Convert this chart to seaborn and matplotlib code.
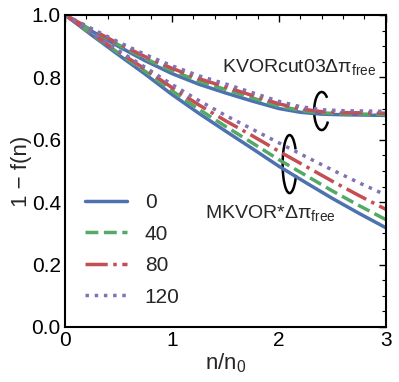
import numpy as np
import pandas as pd
import matplotlib
matplotlib.use("Agg")
import matplotlib.pyplot as plt
from matplotlib.patches import Arc
from matplotlib.ticker import MultipleLocator
import seaborn as sns

labels = ["0", "40", "80", "120"]

# MKVOR*Δπ_free curves (1 - f(n))
n_mk = [0, 0.25, 0.5, 0.75, 1.0, 1.25, 1.5, 1.75, 2.0, 2.25, 2.5, 2.75, 3.0]
mkvor_0 = [1.0, 0.935, 0.872, 0.81, 0.745, 0.685, 0.628, 0.572, 0.515, 0.463, 0.412, 0.364, 0.318]
mkvor_40 = [1.0, 0.938, 0.878, 0.819, 0.757, 0.698, 0.643, 0.590, 0.536, 0.486, 0.436, 0.389, 0.344]
mkvor_80 = [1.0, 0.940, 0.882, 0.826, 0.767, 0.712, 0.661, 0.613, 0.563, 0.515, 0.467, 0.421, 0.377]
mkvor_120 = [1.0, 0.942, 0.886, 0.832, 0.777, 0.726, 0.678, 0.634, 0.590, 0.546, 0.503, 0.462, 0.423]

# KVORcut03Δπ_free curves
n_kv = [0, 0.25, 0.5, 0.75, 1.0, 1.25, 1.5, 1.75, 2.0, 2.2, 2.4, 2.6, 2.8, 3.0]
kvor_0 = [1.0, 0.948, 0.899, 0.853, 0.812, 0.778, 0.750, 0.724, 0.700, 0.688, 0.682, 0.680, 0.679, 0.678]
kvor_40 = [1.0, 0.951, 0.904, 0.860, 0.821, 0.788, 0.761, 0.734, 0.708, 0.694, 0.686, 0.683, 0.682, 0.681]
kvor_80 = [1.0, 0.953, 0.908, 0.866, 0.829, 0.796, 0.769, 0.742, 0.715, 0.699, 0.690, 0.687, 0.686, 0.685]
kvor_120 = [1.0, 0.956, 0.913, 0.873, 0.837, 0.805, 0.779, 0.751, 0.723, 0.706, 0.696, 0.693, 0.692, 0.691]

sns.set_style("white")
plt.rcParams['font.family'] = ['Liberation Sans', 'DejaVu Sans']
plt.rcParams['mathtext.default'] = 'regular'

colors = ["#4C72B0", "#55A868", "#C44E52", "#8172B2"]
styles = ["-", "--", "-.", ":"]

fig = plt.figure(figsize=(3.99, 3.82), dpi=100)
ax = fig.add_axes([0.163, 0.144, 0.804, 0.817])

mk = [mkvor_0, mkvor_40, mkvor_80, mkvor_120]
kv = [kvor_0, kvor_40, kvor_80, kvor_120]
for i in range(4):
    df_kv = pd.DataFrame({"n": n_kv, "f": kv[i]})
    df_mk = pd.DataFrame({"n": n_mk, "f": mk[i]})
    sns.lineplot(data=df_kv, x="n", y="f", ax=ax, color=colors[i], linestyle=styles[i],
                 linewidth=2.5)
    sns.lineplot(data=df_mk, x="n", y="f", ax=ax, color=colors[i], linestyle=styles[i],
                 linewidth=2.5, label=labels[i])

ax.set_xlim(0, 3)
ax.set_ylim(0, 1)
ax.xaxis.set_major_locator(MultipleLocator(1))
ax.xaxis.set_minor_locator(MultipleLocator(0.2))
ax.yaxis.set_major_locator(MultipleLocator(0.2))
ax.yaxis.set_minor_locator(MultipleLocator(0.05))
ax.tick_params(which="both", direction="in", top=True, right=True, labelsize=15,
               colors="black", pad=3)
ax.tick_params(which="major", length=5, width=1)
ax.tick_params(which="minor", length=3, width=0.8)
for s in ax.spines.values():
    s.set_color("black")
    s.set_linewidth(1.5)

ax.set_xlabel("n/n$_0$", fontsize=16, labelpad=1)
ax.set_ylabel("1 − f(n)", fontsize=16, labelpad=0)

ax.text(1.47, 0.817, "KVORcut03Δπ$_{free}$", fontsize=14, ha="left", va="baseline")
ax.text(1.31, 0.35, "MKVOR*Δπ$_{free}$", fontsize=14, ha="left", va="baseline")

ax.add_patch(Arc((2.40, 0.692), 0.14, 0.122, theta1=40, theta2=330, color="black", lw=1.8))
ax.add_patch(Arc((2.10, 0.522), 0.13, 0.186, theta1=40, theta2=330, color="black", lw=1.8))

leg = ax.legend(loc="lower left", bbox_to_anchor=(0.005, 0.005), frameon=False,
                fontsize=15, handlelength=2.0, labelspacing=0.6, handletextpad=0.85)

fig.savefig("out.png", dpi=100)
